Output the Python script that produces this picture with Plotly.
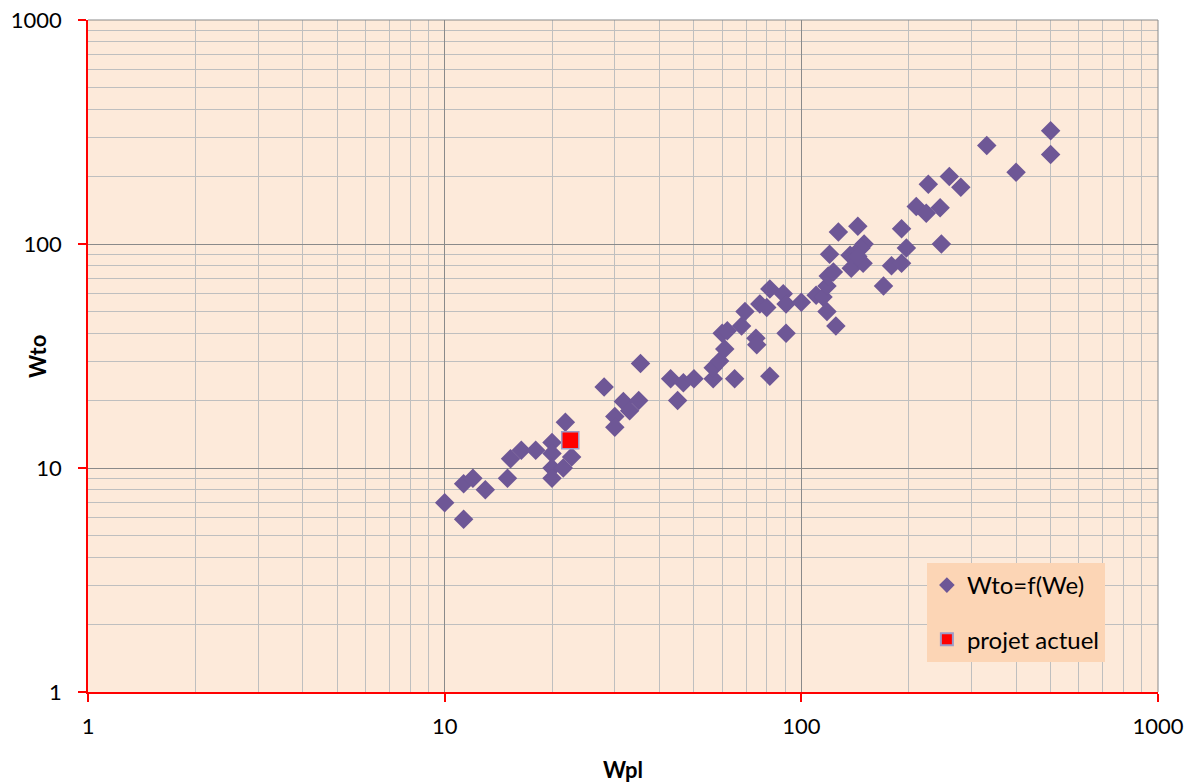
import plotly.graph_objects as go

# Payload mass vs take-off mass (log-log)
wpl = [10, 11.3, 11.3, 12, 13, 15, 15.3, 16.4, 18, 20, 20, 20, 20, 21.8, 21.5, 22.7,
       28, 35.4, 31.7, 30, 30, 33, 35, 43, 46.7, 50, 45, 56.6, 56.6, 59, 65, 61, 60, 62,
       68, 69.5, 74.6, 75, 76.5, 80, 81.6, 81.6, 89, 90.6, 90.6, 100, 110, 115, 118, 118,
       125, 119, 123, 120, 127, 144, 137, 138, 150, 147, 149, 144, 170, 179, 191, 191,
       197, 210, 224, 245, 247, 227, 260, 280, 331, 400, 500, 500]
wto = [7, 5.9, 8.5, 9, 8, 9, 11, 12, 12, 13, 11.6, 10, 9, 16, 10, 11.2,
       23, 29.3, 19.8, 17, 15.2, 18, 20, 25, 24, 25, 20, 25, 28, 30, 25, 34, 40, 41,
       43, 50, 38, 35.5, 54, 52, 63, 25.7, 60, 54, 40, 55, 59, 58, 65, 50,
       43, 72, 75, 90, 113, 120, 89, 78, 100, 96, 82, 88, 65, 80, 82, 117,
       96, 147, 137, 145, 100, 185, 200, 179, 275, 209, 320, 251]

# Current project
proj_wpl = [22.5]
proj_wto = [13.3]

major_vals = [1, 10, 100, 1000]
major_text = ["1", "10", "100", "1000"]
minor_vals = [m * d for d in (1, 10, 100) for m in range(2, 10)]

FONT = "Lato, 'Open Sans', sans-serif"

fig = go.Figure()
fig.add_trace(go.Scatter(
    x=wpl, y=wto, mode="markers", name="Wto=f(We)", legendgroup="a",
    marker=dict(symbol="diamond", size=15, color="#6E5796", line=dict(width=0)),
))
fig.add_trace(go.Scatter(
    x=proj_wpl, y=proj_wto, mode="markers", name="projet actuel", legendgroup="b",
    marker=dict(symbol="square", size=17, color="#FF0000",
                line=dict(width=1.5, color="#9C9CC8")),
))

axis_common = dict(
    type="log", range=[0, 3], automargin=False,
    tickvals=major_vals, ticktext=major_text,
    showgrid=True, gridcolor="#8A8A8A", gridwidth=1,
    showline=True, linecolor="#FF0000", linewidth=1.5,
    ticks="outside", tickcolor="#FF0000", ticklen=8, tickwidth=1.5,
    zeroline=False,
    tickfont=dict(family=FONT, size=22, color="#000000"),
    minor=dict(tickvals=minor_vals, showgrid=True, gridcolor="#BFBFBF", gridwidth=1,
               ticks=""),
)

fig.update_xaxes(**axis_common, ticklabelstandoff=6)
fig.update_yaxes(**axis_common, ticklabelstandoff=12)

# Axis titles
fig.add_annotation(text="<b>Wpl</b>", xref="paper", yref="paper", x=0.5, y=-0.116,
                   xanchor="center", yanchor="middle", showarrow=False,
                   font=dict(family=FONT, size=22, color="#000000"))
fig.add_annotation(text="<b>Wto</b>", xref="paper", yref="paper", x=-0.0477, y=0.5,
                   xanchor="center", yanchor="middle", textangle=-90, showarrow=False,
                   font=dict(family=FONT, size=22, color="#000000"))

# Top and right borders of the plot area
fig.add_shape(type="line", xref="paper", yref="paper", x0=0, x1=1, y0=1, y1=1,
              line=dict(color="#8A8A8A", width=1))
fig.add_shape(type="line", xref="paper", yref="paper", x0=1, x1=1, y0=0, y1=1,
              line=dict(color="#8A8A8A", width=1))

fig.update_layout(
    width=1195, height=784,
    margin=dict(l=88, r=37, t=20, b=92),
    paper_bgcolor="#FFFFFF", plot_bgcolor="#FDEADA",
    font=dict(family=FONT, size=22, color="#000000"),
    showlegend=True,
    legend=dict(
        x=0.784, y=0.192, xanchor="left", yanchor="top",
        bgcolor="#FCD5B5", borderwidth=0,
        font=dict(family=FONT, size=24, color="#000000"),
        tracegroupgap=20, itemsizing="constant",
    ),
)

fig.write_html("out.html")
